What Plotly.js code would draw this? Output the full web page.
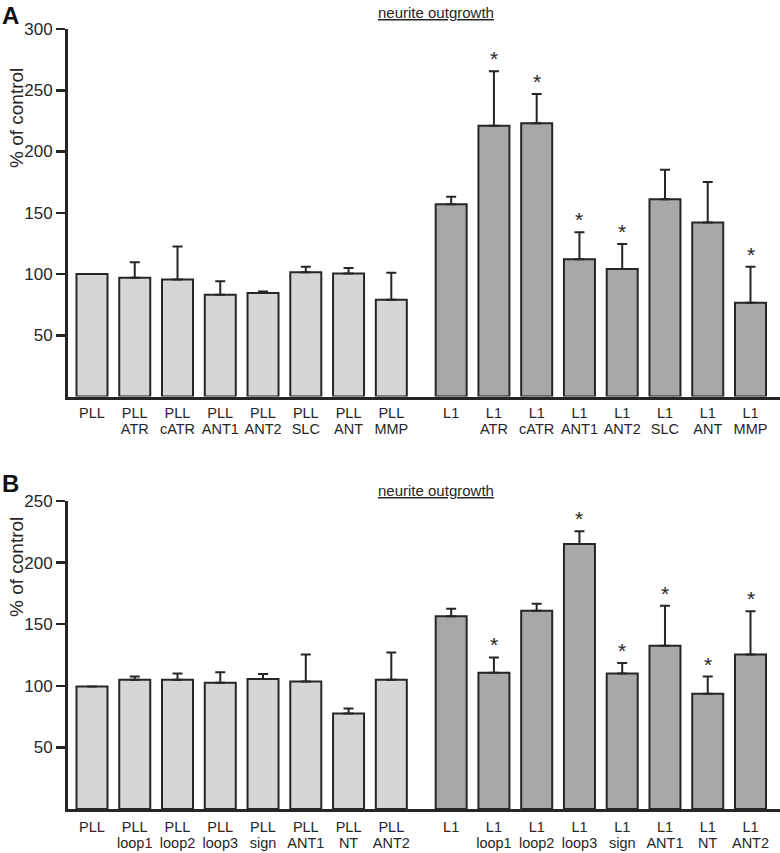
<!DOCTYPE html>
<html>
<head>
<meta charset="utf-8">
<script src="https://cdn.plot.ly/plotly-3.0.1.min.js"></script>
<style>html,body{margin:0;padding:0;background:#fff;}#chart{width:780px;height:853px;}</style>
</head>
<body>
<div id="chart"></div>
<script>
// ---- groups ----
const groupNames = ["PLL", "L1"];

// ---- Panel A data ----
const aTreatments = ["", "ATR", "cATR", "ANT1", "ANT2", "SLC", "ANT", "MMP"];
const aPllMeans  = [100, 97, 95.5, 83, 84.5, 101.5, 100.5, 79];
const aPllErr    = [0, 12.5, 27, 11, 1.2, 4.5, 4.5, 22];
const aL1Means   = [157, 221, 223, 112, 104, 161, 142, 76.5];
const aL1Err     = [6, 44.5, 24, 22, 20.5, 24, 33, 29.5];
const aL1Star    = [false, true, true, true, true, false, false, true];

// ---- Panel B data ----
const bTreatments = ["", "loop1", "loop2", "loop3", "sign", "ANT1", "NT", "ANT2"];
const bPllMeans  = [99.5, 105, 105, 102.5, 105.5, 103.5, 77.5, 105];
const bPllErr    = [0, 2.5, 5, 8.5, 4, 22, 4, 22];
const bL1Means   = [156.5, 110.5, 161, 215, 110, 132.5, 93.5, 125.5];
const bL1Err     = [6, 12.5, 5.5, 10.5, 8.5, 32.5, 14, 35];
const bL1Star    = [false, true, false, true, true, true, true, true];

const yTicksA = [50, 100, 150, 200, 250, 300];
const yTicksB = [50, 100, 150, 200, 250];

// ---- layout helpers ----
const FONT = "Liberation Sans, Arial, sans-serif";
const INK = "#262626";
const GAP = 8.4;           // group offset on the numeric x axis
const BARW = 0.725;
const posP = aTreatments.map((_, i) => i);
const posL = aTreatments.map((_, i) => i + GAP);
const allPos = posP.concat(posL);

function barTrace(x, y, err, color, xa, ya) {
  return {
    type: "bar", x: x, y: y, width: BARW, xaxis: xa, yaxis: ya,
    marker: {color: color, line: {color: INK, width: 2}},
    error_y: {type: "data", symmetric: false, array: err, arrayminus: err.map(() => 0),
              color: INK, thickness: 2, width: 5},
    showlegend: false, hoverinfo: "skip"
  };
}
// invisible helper so the second tick-label row axes get drawn
function helper(xa, ya) {
  return {type: "scatter", mode: "markers", x: allPos, y: allPos.map(() => 0),
          xaxis: xa, yaxis: ya, marker: {opacity: 0, size: 1},
          showlegend: false, hoverinfo: "skip"};
}

const traces = [
  barTrace(posP, aPllMeans, aPllErr, "#d6d6d6", "x", "y"),
  barTrace(posL, aL1Means, aL1Err, "#a8a8a8", "x", "y"),
  barTrace(posP, bPllMeans, bPllErr, "#d6d6d6", "x2", "y2"),
  barTrace(posL, bL1Means, bL1Err, "#a8a8a8", "x2", "y2"),
  helper("x3", "y"),
  helper("x4", "y2")
];

const annotations = [];
function stars(means, errs, flags, xr, yr) {
  flags.forEach((f, i) => {
    if (!f) return;
    annotations.push({x: posL[i], y: means[i] + errs[i], xref: xr, yref: yr,
      text: "*", showarrow: false, yanchor: "bottom", yshift: -1,
      font: {family: FONT, size: 21, color: INK}});
  });
}
stars(aL1Means, aL1Err, aL1Star, "x", "y");
stars(bL1Means, bL1Err, bL1Star, "x2", "y2");

const W = 780, H = 853;
const px = v => v / W, py = v => 1 - v / H;

annotations.push(
  {xref: "paper", yref: "paper", x: px(0), y: py(0), xanchor: "left", yanchor: "top",
   text: "<b>A</b>", showarrow: false, font: {family: FONT, size: 24, color: "#111"}},
  {xref: "paper", yref: "paper", x: px(0), y: py(468), xanchor: "left", yanchor: "top",
   text: "<b>B</b>", showarrow: false, font: {family: FONT, size: 24, color: "#111"}},
  {xref: "paper", yref: "paper", x: px(436), y: py(12), xanchor: "center", yanchor: "middle",
   text: "<u>neurite outgrowth</u>", showarrow: false, font: {family: FONT, size: 15, color: INK}},
  {xref: "paper", yref: "paper", x: px(436), y: py(490), xanchor: "center", yanchor: "middle",
   text: "<u>neurite outgrowth</u>", showarrow: false, font: {family: FONT, size: 15, color: INK}},
  {xref: "paper", yref: "paper", x: px(16), y: py(118), xanchor: "center", yanchor: "middle",
   text: "% of control", textangle: -90, showarrow: false, font: {family: FONT, size: 19, color: INK}},
  {xref: "paper", yref: "paper", x: px(16), y: py(567), xanchor: "center", yanchor: "middle",
   text: "% of control", textangle: -90, showarrow: false, font: {family: FONT, size: 19, color: INK}}
);

const xRange = [-0.561, 16.09];
const groupText = posP.map(() => groupNames[0]).concat(posL.map(() => groupNames[1]));
function xAxis(anchor, standoff) {
  return {
    domain: [px(68), 1], anchor: anchor, range: xRange, showline: true, linewidth: 3,
    linecolor: INK, ticks: "", showgrid: false, zeroline: false,
    tickmode: "array", tickvals: allPos, ticktext: groupText, ticklabelstandoff: standoff,
    tickfont: {family: FONT, size: 14.5, color: INK}, tickangle: 0, fixedrange: true
  };
}
function xSubAxis(overlay, posPx, treatments) {
  return {
    domain: [px(68), 1], anchor: "free", position: py(posPx), overlaying: overlay, side: "bottom",
    range: xRange, showline: false, ticks: "", showgrid: false, zeroline: false,
    tickmode: "array", tickvals: allPos, ticktext: treatments.concat(treatments),
    tickfont: {family: FONT, size: 14.5, color: INK}, tickangle: 0, fixedrange: true
  };
}
function yAxis(domain, range, ticks, anchor) {
  return {
    domain: domain, anchor: anchor, range: range, showline: true, linewidth: 3,
    linecolor: INK, ticks: "outside", ticklen: 9, tickwidth: 2.5, tickcolor: INK,
    showgrid: false, zeroline: false, tickmode: "array", tickvals: ticks,
    tickfont: {family: FONT, size: 17, color: INK}, fixedrange: true
  };
}

const layout = {
  width: W, height: H, margin: {l: 0, r: 0, t: 0, b: 0},
  paper_bgcolor: "#fff", plot_bgcolor: "#fff", bargap: 0,
  xaxis: xAxis("y", 1),
  xaxis3: xSubAxis("x", 418, aTreatments),
  yaxis: yAxis([py(396.5), py(29)], [0, 300], yTicksA, "x"),
  xaxis2: xAxis("y2", 3),
  xaxis4: xSubAxis("x2", 832.5, bTreatments),
  yaxis2: yAxis([py(809), py(501)], [0, 250], yTicksB, "x2"),
  annotations: annotations
};

Plotly.newPlot("chart", traces, layout, {staticPlot: true, displayModeBar: false});
</script>
</body>
</html>
